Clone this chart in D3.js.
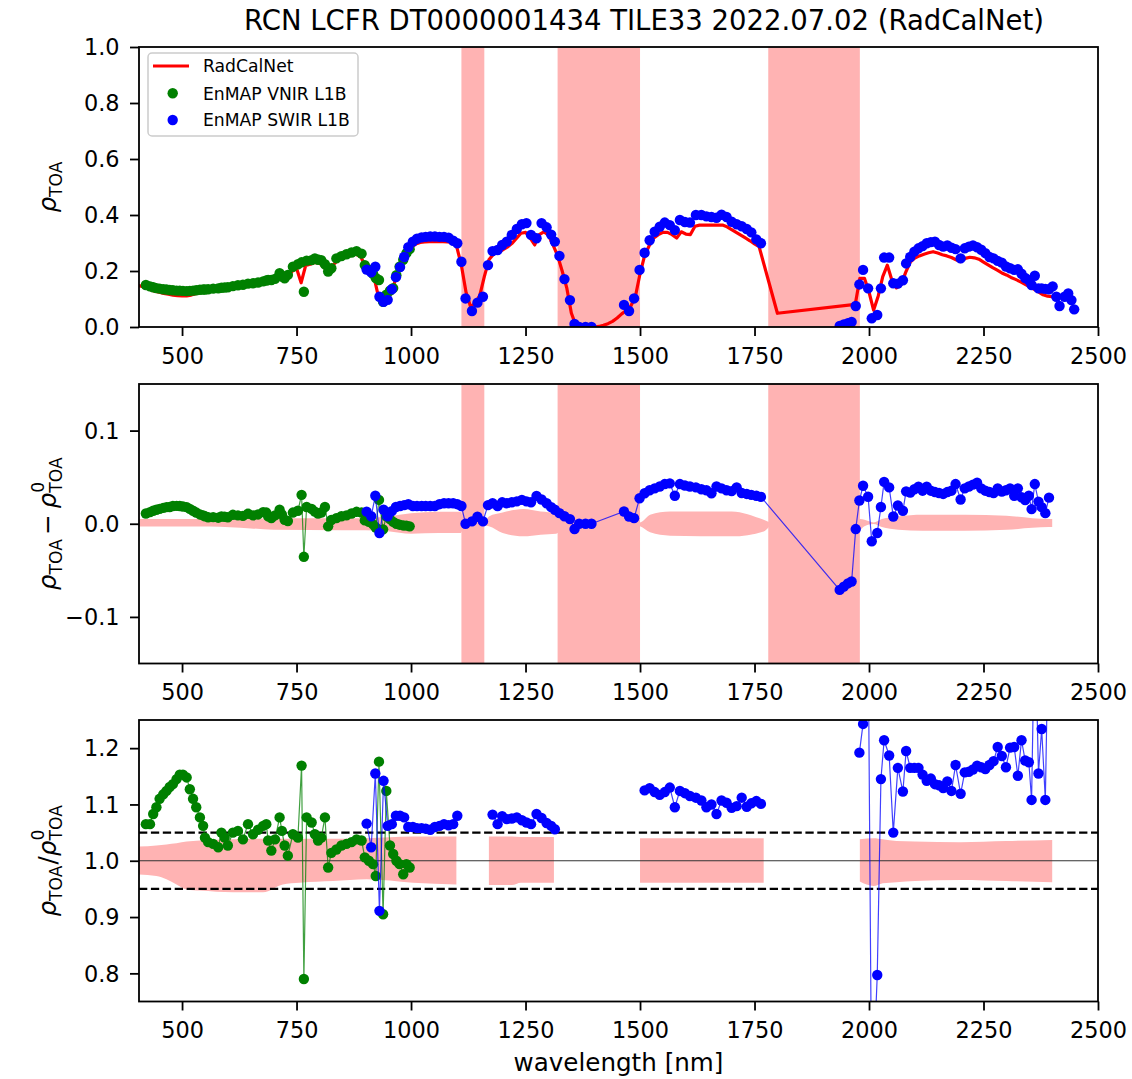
<!DOCTYPE html>
<html><head><meta charset="utf-8">
<script src="https://cdn.jsdelivr.net/npm/d3@7"></script>
<style>body{margin:0;background:#fff} text{font-family:"DejaVu Sans",sans-serif}</style>
</head><body><svg id="chart" width="1132" height="1079"></svg>
<script>
const title = "RCN LCFR DT0000001434 TILE33 2022.07.02 (RadCalNet)";
const xLabel = "wavelength [nm]";
const xTickVals = [500,750,1000,1250,1500,1750,2000,2250,2500];
const topTicks = [0,0.2,0.4,0.6,0.8,1.0];
const midTicks = [-0.1,0,0.1];
const botTicks = [0.8,0.9,1.0,1.1,1.2];
const legendLabels = ["RadCalNet","EnMAP VNIR L1B","EnMAP SWIR L1B"];
const absorptionBands = [[1110,1160],[1320,1500],[1780,1980]];
const ratioRegions = [[400,1099],[1170,1312],[1500,1770],[1980,2400]];
const ratioLimits = [0.95,1.0,1.05];

const rcnWl = [400,410,420,430,440,450,460,470,480,490,
500,510,520,530,540,550,560,570,580,590,
600,610,620,630,640,650,660,670,680,690,
700,710,720,730,740,750,760,770,780,790,
800,810,820,830,840,850,860,870,880,890,
900,910,920,930,940,950,960,970,980,990,
1000,1010,1020,1030,1040,1050,1060,1070,1080,1090,
1100,1110,1120,1130,1140,1150,1160,1170,1180,1190,
1200,1210,1220,1230,1240,1250,1260,1270,1280,1290,
1300,1310,1320,1330,1340,1350,1360,1370,1380,1390,
1400,1410,1420,1430,1440,1450,1460,1470,1480,1490,
1500,1510,1520,1530,1540,1550,1560,1570,1580,1590,
1600,1610,1620,1630,1640,1650,1660,1670,1680,1690,
1700,1710,1720,1730,1740,1750,1760,1800,1970,1980,
1990,2000,2010,2020,2030,2040,2050,2060,2070,2080,
2090,2100,2110,2120,2130,2140,2150,2160,2170,2180,
2190,2200,2210,2220,2230,2240,2250,2260,2270,2280,
2290,2300,2310,2320,2330,2340,2350,2360,2370,2380,
2390,2400];
const rcnRho = [0.150,0.146,0.140,0.134,0.128,0.124,0.120,0.117,0.114,0.112,
0.111,0.111,0.114,0.119,0.123,0.126,0.129,0.131,0.132,0.134,
0.136,0.138,0.140,0.143,0.145,0.147,0.149,0.151,0.154,0.158,
0.163,0.172,0.170,0.180,0.198,0.210,0.158,0.220,0.224,0.231,
0.229,0.212,0.195,0.222,0.238,0.245,0.251,0.256,0.260,0.252,
0.218,0.200,0.172,0.100,0.085,0.097,0.138,0.188,0.230,0.265,
0.284,0.296,0.302,0.304,0.305,0.305,0.305,0.305,0.304,0.302,
0.285,0.220,0.125,0.072,0.085,0.112,0.180,0.240,0.260,0.268,
0.275,0.285,0.298,0.316,0.335,0.338,0.318,0.293,0.330,0.340,
0.328,0.293,0.255,0.200,0.140,0.050,0.005,0.0,0.0,0.0,
0.0,0.002,0.006,0.012,0.020,0.032,0.047,0.059,0.075,0.110,
0.190,0.255,0.290,0.318,0.330,0.338,0.338,0.330,0.318,0.340,
0.332,0.330,0.360,0.364,0.364,0.364,0.364,0.364,0.364,0.358,
0.348,0.338,0.328,0.318,0.308,0.297,0.287,0.049,0.081,0.174,
0.174,0.125,0.060,0.110,0.180,0.221,0.167,0.140,0.150,0.195,
0.232,0.246,0.254,0.260,0.265,0.269,0.264,0.258,0.254,0.248,
0.240,0.233,0.245,0.249,0.247,0.242,0.232,0.222,0.212,0.203,
0.193,0.186,0.177,0.170,0.162,0.153,0.144,0.135,0.125,0.115,
0.110,0.108];

const vnirWl = [421,430,437,444,451,459,466,473,480,488,
495,502,510,517,524,531,539,546,550,557,
568,579,586,593,600,611,622,633,644,655,
666,677,684,688,695,703,713,718,724,731,
742,753,761,766,772,783,790,797,804,812,
819,826,837,848,859,870,881,892,899,908,
917,923,930,939,946,954,961,968,975,983,
990,997];
const vnirRho = [0.150,0.145,0.142,0.139,0.137,0.135,0.134,0.132,0.131,0.130,
0.130,0.129,0.128,0.129,0.130,0.131,0.133,0.134,0.134,0.135,
0.137,0.138,0.140,0.141,0.142,0.146,0.149,0.151,0.155,0.156,
0.159,0.163,0.166,0.168,0.168,0.172,0.192,0.180,0.174,0.186,
0.215,0.224,0.231,0.126,0.237,0.239,0.245,0.240,0.239,0.224,
0.198,0.210,0.245,0.253,0.260,0.266,0.271,0.262,0.221,0.205,
0.190,0.175,0.168,0.090,0.115,0.130,0.139,0.185,0.215,0.240,
0.264,0.278];
const vnirDiff = [0.011,0.0125,0.014,0.015,0.016,0.017,0.0178,0.018,0.019,0.0192,
0.019,0.0185,0.0178,0.016,0.014,0.012,0.010,0.009,0.008,0.007,
0.0071,0.0065,0.0078,0.0075,0.007,0.0096,0.009,0.0085,0.0107,0.009,
0.010,0.0125,0.012,0.008,0.006,0.009,0.015,0.010,0.0043,0.003,
0.012,0.014,0.031,-0.0355,0.018,0.016,0.013,0.011,0.012,0.018,
-0.0028,0.004,0.006,0.008,0.009,0.011,0.0128,0.012,0.0036,0.002,
-0.0007,-0.004,0.0256,-0.006,0.008,0.005,0.002,0.0,-0.001,-0.0018,
-0.002,-0.0028];
const vnirRatio = [1.065,1.065,1.083,1.095,1.110,1.118,1.124,1.131,1.136,1.145,
1.153,1.153,1.148,1.127,1.110,1.095,1.077,1.062,1.041,1.033,
1.030,1.024,1.050,1.041,1.027,1.050,1.053,1.038,1.065,1.047,
1.055,1.062,1.065,1.036,1.018,1.038,1.077,1.053,1.027,1.009,
1.047,1.041,1.169,0.790,1.077,1.068,1.047,1.036,1.041,1.077,
0.988,1.014,1.020,1.027,1.030,1.033,1.038,1.036,1.006,1.000,
0.994,0.973,1.176,0.905,1.124,1.027,1.012,1.000,0.994,0.976,
0.994,0.988];

const swirWl = [903,913,922,931,940,949,958,967,976,985,
994,1004,1013,1023,1032,1042,1052,1062,1072,1082,
1092,1101,1110,1119,1133,1145,1157,1168,1178,1189,
1199,1209,1220,1231,1242,1252,1262,1274,1285,1296,
1306,1314,1324,1335,1347,1357,1367,1381,1394,1465,
1476,1487,1499,1510,1521,1532,1543,1554,1565,1576,
1587,1598,1609,1622,1634,1645,1656,1667,1678,1689,
1700,1711,1722,1733,1743,1754,1764,1936,1945,1954,
1962,1971,1979,1987,1998,2006,2018,2026,2033,2044,
2053,2063,2074,2081,2090,2099,2108,2117,2126,2135,
2144,2153,2162,2171,2180,2189,2200,2209,2218,2227,
2236,2245,2254,2263,2272,2281,2290,2299,2308,2317,
2325,2333,2341,2349,2355,2362,2370,2377,2385,2393,
2401,2409,2416,2427,2435,2442,2448];
const swirRho = [0.205,0.195,0.215,0.108,0.090,0.097,0.135,0.178,0.214,0.250,
0.285,0.305,0.315,0.320,0.322,0.323,0.323,0.322,0.322,0.319,
0.308,0.299,0.233,0.102,0.057,0.087,0.108,0.221,0.271,0.275,
0.293,0.305,0.329,0.350,0.367,0.371,0.329,0.317,0.371,0.356,
0.330,0.305,0.254,0.171,0.096,0.011,0.0,0.0,0.0,0.079,
0.057,0.102,0.204,0.265,0.310,0.340,0.358,0.373,0.364,0.346,
0.382,0.375,0.373,0.400,0.400,0.395,0.393,0.390,0.401,0.393,
0.376,0.367,0.360,0.350,0.338,0.313,0.299,0.004,0.009,0.014,
0.018,0.075,0.152,0.204,0.138,0.031,0.043,0.138,0.248,0.248,
0.156,0.155,0.167,0.227,0.250,0.269,0.281,0.289,0.299,0.303,
0.305,0.293,0.287,0.291,0.283,0.278,0.245,0.281,0.287,0.291,
0.285,0.276,0.264,0.250,0.245,0.236,0.230,0.216,0.210,0.204,
0.206,0.190,0.175,0.167,0.150,0.183,0.138,0.138,0.136,0.135,
0.145,0.108,0.075,0.108,0.120,0.096,0.063];
const swirDiff = [0.013,0.008,0.030,-0.010,0.015,0.008,0.0135,0.018,0.019,0.020,
0.021,0.019,0.019,0.019,0.019,0.019,0.019,0.021,0.022,0.022,
0.022,0.021,0.019,0.000,0.0025,0.0075,0.0025,0.020,0.022,0.019,
0.023,0.022,0.023,0.024,0.0256,0.024,0.023,0.0298,0.026,0.022,
0.0178,0.015,0.0114,0.008,0.005,-0.0057,0.0,0.0,0.0,0.0131,
0.0078,0.006,0.0274,0.0327,0.036,0.038,0.040,0.0426,0.0433,0.030,
0.0426,0.041,0.040,0.039,0.037,0.036,0.0327,0.040,0.038,0.036,
0.035,0.039,0.033,0.032,0.031,0.030,0.0288,-0.071,-0.0675,-0.064,
-0.062,-0.0057,0.0249,0.0408,0.029,-0.0188,-0.0099,0.018,0.045,0.039,
0.0078,0.0196,0.014,0.0348,0.0334,0.037,0.0398,0.0355,0.0398,0.0355,
0.034,0.033,0.032,0.034,0.0355,0.0426,0.026,0.038,0.040,0.042,
0.044,0.038,0.0355,0.034,0.033,0.038,0.0345,0.036,0.038,0.030,
0.038,0.0284,0.0255,0.030,0.0157,0.0426,0.0238,0.0178,0.0114,0.028,
null,null,null,null,null,null,null];
const swirRatio = [1.066,1.024,1.155,0.911,1.142,1.062,1.065,1.080,1.080,1.077,
1.060,1.060,1.058,1.058,1.057,1.055,1.060,1.062,1.065,1.063,
1.065,1.080,null,null,null,null,null,null,1.082,1.065,
1.079,1.074,1.075,1.077,1.072,1.068,1.065,1.083,1.076,1.067,
1.062,1.056,null,null,null,null,null,null,null,null,
null,null,null,1.125,1.129,1.122,1.117,1.122,1.130,1.095,
1.124,1.120,1.115,1.112,1.107,1.095,1.100,1.083,1.107,1.103,
1.094,1.097,1.112,1.096,1.102,1.106,1.101,null,null,null,
null,null,1.192,1.243,1.42,0.55,0.797,1.145,1.214,1.187,
1.050,1.165,1.123,1.195,1.165,1.165,1.165,1.153,1.142,1.146,
1.136,1.134,1.129,1.141,1.124,1.170,1.119,1.157,1.158,1.162,
1.169,1.166,1.163,1.170,1.177,1.202,1.186,1.166,1.201,1.202,
1.151,1.214,1.178,1.175,1.108,1.45,1.155,1.234,1.108,1.48,
null,null,null,null,null,null,null];

const diffEnvWl = [400,560,650,700,850,900,950,1000,1060,1108,1115,1135,1160,1170,1200,1245,1283,1317,1330,1360,1450,1490,1500,1522,1566,1700,1770,1790,1970,1980,1990,2010,2028,2064,2117,2210,2300,2393,2400];
const diffEnvHi = [0.005,0.005,0.0055,0.006,0.006,0.006,0.008,0.0114,0.013,0.013,0.005,0.002,0.002,0.0078,0.012,0.0157,0.0131,0.0114,0.006,0.0005,0.001,0.002,0.0014,0.0096,0.0131,0.0131,0.0043,0.001,0.002,0.005,0.0043,0.0014,0.005,0.0078,0.0096,0.0096,0.0085,0.005,0.005];
const diffEnvLo = [-0.003,-0.003,-0.005,-0.0065,-0.007,-0.007,-0.008,-0.0107,-0.010,-0.010,-0.005,-0.002,-0.002,-0.0028,-0.010,-0.0135,-0.0117,-0.0107,-0.006,-0.0005,-0.001,-0.002,-0.0028,-0.0092,-0.0128,-0.0135,-0.0082,-0.001,-0.002,-0.0064,-0.0028,-0.0004,-0.0036,-0.0064,-0.0075,-0.0075,-0.0064,-0.0036,-0.0036];

const ratioEnvWl = [400,444,466,488,510,539,611,677,720,757,830,903,1004,1099,1170,1220,1240,1312,1500,1770,1980,2010,2030,2060,2100,2200,2300,2400];
const ratioEnvHi = [1.025,1.027,1.029,1.031,1.034,1.036,1.038,1.039,1.039,1.039,1.039,1.040,1.043,1.043,1.043,1.043,1.042,1.042,1.040,1.040,1.038,1.040,1.038,1.035,1.034,1.033,1.035,1.037];
const ratioEnvLo = [0.976,0.973,0.967,0.958,0.949,0.947,0.944,0.944,0.958,0.961,0.964,0.967,0.961,0.958,0.957,0.957,0.961,0.961,0.961,0.961,0.963,0.955,0.960,0.962,0.964,0.966,0.964,0.962];

// ---------- drawing ----------
const RED = "#ff0000", GREEN = "#008000", BLUE = "#0000ff", PINK = "#ffb3b3";
const svg = d3.select("#chart");
svg.append("rect").attr("width",1132).attr("height",1079).attr("fill","#fff");
const X0 = 139, X1 = 1098;
const x = d3.scaleLinear().domain([406,2500]).range([X0,X1]);

const rcn = rcnWl.map((w,i)=>({w, v:rcnRho[i]}));
const vnir = vnirWl.map((w,i)=>({w, rho:vnirRho[i], diff:vnirDiff[i], ratio:vnirRatio[i]}));
const swir = swirWl.map((w,i)=>({w, rho:swirRho[i], diff:swirDiff[i], ratio:swirRatio[i]}));
const diffEnv = diffEnvWl.map((w,i)=>({w, hi:diffEnvHi[i], lo:diffEnvLo[i]}));
const ratioEnv = ratioEnvWl.map((w,i)=>({w, hi:ratioEnvHi[i], lo:ratioEnvLo[i]}));

const panels = [
  {top:47, bottom:327, domain:[0,1], ticks:topTicks},
  {top:384, bottom:663.5, domain:[-0.15,0.15], ticks:midTicks},
  {top:720, bottom:1001.5, domain:[0.75,1.25], ticks:botTicks}
];
const defs = svg.append("defs");
panels.forEach((p,i)=>{
  p.y = d3.scaleLinear().domain(p.domain).range([p.bottom,p.top]);
  defs.append("clipPath").attr("id","clip"+i).append("rect")
    .attr("x",X0).attr("y",p.top).attr("width",X1-X0).attr("height",p.bottom-p.top);
  p.g = svg.append("g").attr("clip-path",`url(#clip${i})`);
});

function drawBands(p){
  p.g.selectAll(".band").data(absorptionBands).join("rect")
    .attr("x",d=>x(d[0])).attr("width",d=>x(d[1])-x(d[0]))
    .attr("y",p.top).attr("height",p.bottom-p.top).attr("fill",PINK);
}
function drawDots(p, data, key, color){
  p.g.append("g").selectAll("circle").data(data.filter(d=>d[key]!=null)).join("circle")
    .attr("cx",d=>x(d.w)).attr("cy",d=>p.y(d[key])).attr("r",5.2).attr("fill",color);
}
function drawLine(p, data, key, color){
  p.g.append("path").datum(data)
    .attr("d", d3.line().defined(d=>d[key]!=null).x(d=>x(d.w)).y(d=>p.y(d[key])))
    .attr("fill","none").attr("stroke",color).attr("stroke-width",1.2).attr("stroke-opacity",0.75);
}

// Panel 1
const P1 = panels[0];
drawBands(P1);
P1.g.append("path").datum(rcn)
  .attr("d", d3.line().x(d=>x(d.w)).y(d=>P1.y(d.v)))
  .attr("fill","none").attr("stroke",RED).attr("stroke-width",3.2).attr("stroke-linejoin","round");
drawDots(P1, vnir, "rho", GREEN);
drawDots(P1, swir, "rho", BLUE);

// Panel 2
const P2 = panels[1];
P2.g.append("path").datum(diffEnv)
  .attr("d", d3.area().curve(d3.curveMonotoneX).x(d=>x(d.w)).y0(d=>P2.y(d.lo)).y1(d=>P2.y(d.hi)))
  .attr("fill",PINK);
drawBands(P2);
drawLine(P2, vnir, "diff", GREEN);
drawDots(P2, vnir, "diff", GREEN);
drawLine(P2, swir, "diff", BLUE);
drawDots(P2, swir, "diff", BLUE);

// Panel 3
const P3 = panels[2];
ratioRegions.forEach(r=>{
  const seg = ratioEnv.filter(d=>d.w>=r[0] && d.w<=r[1]);
  P3.g.append("path").datum(seg)
    .attr("d", d3.area().curve(d3.curveMonotoneX).x(d=>x(d.w)).y0(d=>P3.y(d.lo)).y1(d=>P3.y(d.hi)))
    .attr("fill",PINK);
});
P3.g.selectAll(".hl").data(ratioLimits).join("line")
  .attr("x1",X0).attr("x2",X1).attr("y1",d=>P3.y(d)).attr("y2",d=>P3.y(d))
  .attr("stroke",d=>d===1.0?"#333":"#000")
  .attr("stroke-width",d=>d===1.0?1.1:2.2)
  .attr("stroke-dasharray",d=>d===1.0?null:"8.3,3.6");
drawLine(P3, vnir, "ratio", GREEN);
drawDots(P3, vnir, "ratio", GREEN);
drawLine(P3, swir, "ratio", BLUE);
drawDots(P3, swir, "ratio", BLUE);

// Axes
panels.forEach((p,i)=>{
  const gx = svg.append("g").attr("transform",`translate(0,${p.bottom})`)
    .call(d3.axisBottom(x).tickValues(xTickVals).tickSize(9).tickFormat(d3.format("d")));
  gx.select(".domain").remove();
  gx.selectAll("line").attr("stroke","#000").attr("stroke-width",1.8);
  gx.selectAll("text").attr("y",36.5).attr("dy",null).attr("font-size",22.4)
    .attr("fill","#000").attr("font-family","DejaVu Sans");
  const gy = svg.append("g").attr("transform",`translate(${X0},0)`)
    .call(d3.axisLeft(p.y).tickValues(p.ticks).tickSize(9).tickFormat(d3.format(".1f")));
  gy.select(".domain").remove();
  gy.selectAll("line").attr("stroke","#000").attr("stroke-width",1.8);
  gy.selectAll("text").attr("x",-19.5).attr("dy","0.35em").attr("font-size",22.4)
    .attr("fill","#000").attr("font-family","DejaVu Sans");
  svg.append("rect").attr("x",X0).attr("y",p.top).attr("width",X1-X0).attr("height",p.bottom-p.top)
    .attr("fill","none").attr("stroke","#000").attr("stroke-width",1.8);
});

// Title and x label
svg.append("text").attr("x",644).attr("y",30).attr("text-anchor","middle")
  .attr("font-size",27.5).attr("fill","#000").text(title);
svg.append("text").attr("x",(X0+X1)/2).attr("y",1071).attr("text-anchor","middle")
  .attr("font-size",24.6).attr("fill","#000").text(xLabel);

// Y labels (math style)
const LAB = 24.6, SUB = 17.2;
function yLabel(cy, build){
  const t = svg.append("text").attr("transform",`translate(56,${cy}) rotate(-90)`)
    .attr("text-anchor","middle").attr("font-size",LAB).attr("fill","#000");
  build(t);
}
yLabel((P1.top+P1.bottom)/2, t=>{
  t.append("tspan").attr("font-style","italic").text("ρ");
  t.append("tspan").attr("font-size",SUB).attr("dy",5.5).text("TOA");
});
yLabel((P2.top+P2.bottom)/2, t=>{
  t.append("tspan").attr("font-style","italic").text("ρ");
  t.append("tspan").attr("font-size",SUB).attr("dy",5.5).text("TOA");
  t.append("tspan").attr("dy",-5.5).attr("dx",4).text("−");
  t.append("tspan").attr("font-style","italic").attr("dx",6).text("ρ");
  t.append("tspan").attr("font-size",SUB).attr("dy",-12).text("0");
  t.append("tspan").attr("font-size",SUB).attr("dx",-10.9).attr("dy",17.5).text("TOA");
});
yLabel((P3.top+P3.bottom)/2, t=>{
  t.append("tspan").attr("font-style","italic").text("ρ");
  t.append("tspan").attr("font-size",SUB).attr("dy",5.5).text("TOA");
  t.append("tspan").attr("dy",-5.5).attr("dx",1).text("/");
  t.append("tspan").attr("font-style","italic").text("ρ");
  t.append("tspan").attr("font-size",SUB).attr("dy",-12).text("0");
  t.append("tspan").attr("font-size",SUB).attr("dx",-10.9).attr("dy",17.5).text("TOA");
});

// Legend
const lg = svg.append("g");
lg.append("rect").attr("x",148).attr("y",53).attr("width",210).attr("height",83).attr("rx",4)
  .attr("fill","#fff").attr("fill-opacity",0.8).attr("stroke","#cccccc").attr("stroke-width",1.5);
lg.append("line").attr("x1",153).attr("x2",189).attr("y1",66).attr("y2",66)
  .attr("stroke",RED).attr("stroke-width",3.2);
lg.append("circle").attr("cx",172.7).attr("cy",93.3).attr("r",5.2).attr("fill",GREEN);
lg.append("circle").attr("cx",172.7).attr("cy",120).attr("r",5.2).attr("fill",BLUE);
[66,93.3,120].forEach((yy,i)=>{
  lg.append("text").attr("x",203).attr("y",yy+6.3).attr("font-size",17.2).attr("fill","#000").text(legendLabels[i]);
});
</script>
</body></html>
